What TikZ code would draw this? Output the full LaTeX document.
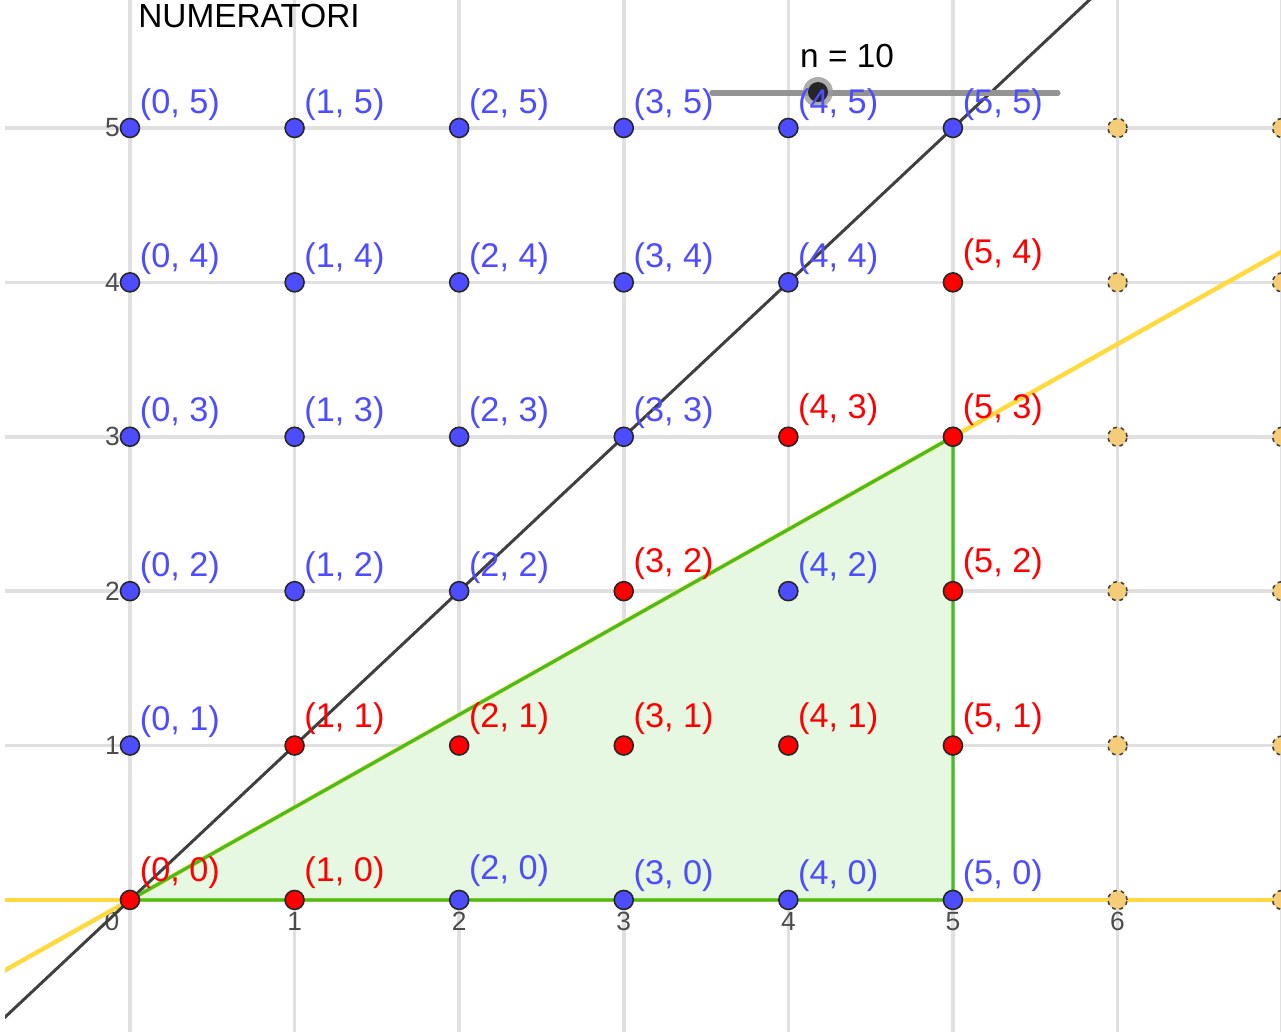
\documentclass[tikz,border=0pt]{standalone}
\usepackage{fontspec}
\setmainfont{Liberation Sans}
\usetikzlibrary{positioning}
\definecolor{ggblue}{RGB}{77,77,255}
\definecolor{ggred}{RGB}{255,0,0}
\definecolor{gggrid}{RGB}{224,224,224}
\definecolor{ggyellow}{RGB}{255,217,61}
\definecolor{gggreen}{RGB}{68,190,34}
\definecolor{ggfill}{RGB}{230,247,226}
\definecolor{ggline}{RGB}{64,64,64}
\definecolor{ggorange}{RGB}{245,205,120}

\begin{document}
\begin{tikzpicture}[x=3.292cm, y=3.088cm,
	gridline/.style={gggrid, line width=2pt},
	yellowline/.style={ggyellow, line width=2.5pt},
	blackline/.style={ggline, line width=1.7pt},
	edgeline/.style={gggreen, line width=1.8pt},
	dot/.style={circle, draw=black!85, line width=0.9pt, minimum size=0.38cm, inner sep=0pt},
	bluedot/.style={dot, fill=ggblue},
	reddot/.style={dot, fill=ggred},
	ghostdot/.style={dot, draw=black!75, dash pattern=on 2.2pt off 2.2pt, fill=ggorange},
	ptlabel/.style={anchor=base west, inner sep=0pt, font=\fontsize{19.5}{22}\selectfont},
	ticklabel/.style={black!70, inner sep=0pt, font=\fontsize{15}{17}\selectfont},
	slider/.style={gray!85, line width=3pt, line cap=round}]
			\useasboundingbox (-0.7898,-0.8549) rectangle (6.9933,5.8290);
			\clip (-0.7594,-0.8549) rectangle (6.9933,5.8290);
			\foreach \x in {0,...,5}
				\foreach \y in {0,...,5}
					\coordinate (c-\x-\y) at (\x,\y);
			\foreach \x in {0,...,7}
				\draw[gridline] (\x,-0.9) -- (\x,5.9);
			\foreach \y in {0,...,5}
				\draw[gridline] (-0.8,\y) -- (7.1,\y);
			\fill[ggfill] (c-0-0) -- (c-5-0) -- (c-5-3) -- cycle;
			\node[ticklabel] (t-x-0) at (-0.109,-0.14) {0};
			\foreach \x in {1,...,6}
				\node[ticklabel] (t-x-\x) at (\x,-0.14) {\x};
			\foreach \y in {1,...,5}
				\node[ticklabel, anchor=east] (t-y-\y) at (-0.06,\y) {\y};
			\coordinate (yl-a) at (-0.8,-0.48);
			\coordinate (yl-b) at (7.2,4.32);
			\coordinate (yh-a) at (-0.8,0);
			\coordinate (yh-b) at (7.2,0);
			\coordinate (bl-a) at (-0.9,-0.9);
			\coordinate (bl-b) at (6,6);
			\draw[yellowline] (yh-a) -- (yh-b);
			\draw[yellowline] (yl-a) -- (yl-b);
			\draw[blackline] (bl-a) -- (bl-b);
			\draw[edgeline] (c-0-0) -- (c-5-0) -- (c-5-3) -- cycle;
			\coordinate (s-start) at (3.536,5.227);
			\coordinate (s-end) at (5.638,5.227);
			\draw[slider] (s-start) -- (s-end);
			\node[circle, fill=gray!80, opacity=0.8, minimum size=0.6cm, inner sep=0pt] (knob-halo) at (4.180,5.233) {};
			\node[circle, fill=black!85, minimum size=0.4cm, inner sep=0pt] (knob) at (knob-halo) {};
			\node[anchor=base west, inner sep=0pt, font=\fontsize{19}{22}\selectfont] (n-val) at (4.070,5.389) {n = 10};
			\node[anchor=base west, inner sep=0pt, font=\fontsize{19}{22}\selectfont] (title) at (0.0486,5.654) {NUMERATORI};
			\foreach \x in {6,7}
				\foreach \y in {0,...,5}
					\node[ghostdot] (g-\x-\y) at (\x,\y) {};
			\foreach \x/\y in {0/1,0/2,0/3,0/4,0/5,1/2,1/3,1/4,1/5,2/2,2/3,2/4,2/5,3/3,3/4,3/5,4/0,4/2,4/4,4/5,3/0,5/0,5/5}{
				\node[bluedot] (p-\x-\y) at (c-\x-\y) {};
				\node[ptlabel, ggblue] (l-\x-\y) at ([shift={(0.058,0.097)}]c-\x-\y) {(\x, \y)};
			}
			\node[bluedot] (p-2-0) at (c-2-0) {};
			\node[ptlabel, ggblue] (l-2-0) at ([shift={(0.058,0.130)}]c-2-0) {(2, 0)};
			\foreach \x/\y in {0/0,1/0,1/1,2/1,3/1,4/1,5/1,3/2,5/2,4/3,5/3,5/4}{
				\node[reddot] (p-\x-\y) at (c-\x-\y) {};
				\node[ptlabel, ggred] (l-\x-\y) at ([shift={(0.058,0.120)}]c-\x-\y) {(\x, \y)};
			}
		\end{tikzpicture}
\end{document}
